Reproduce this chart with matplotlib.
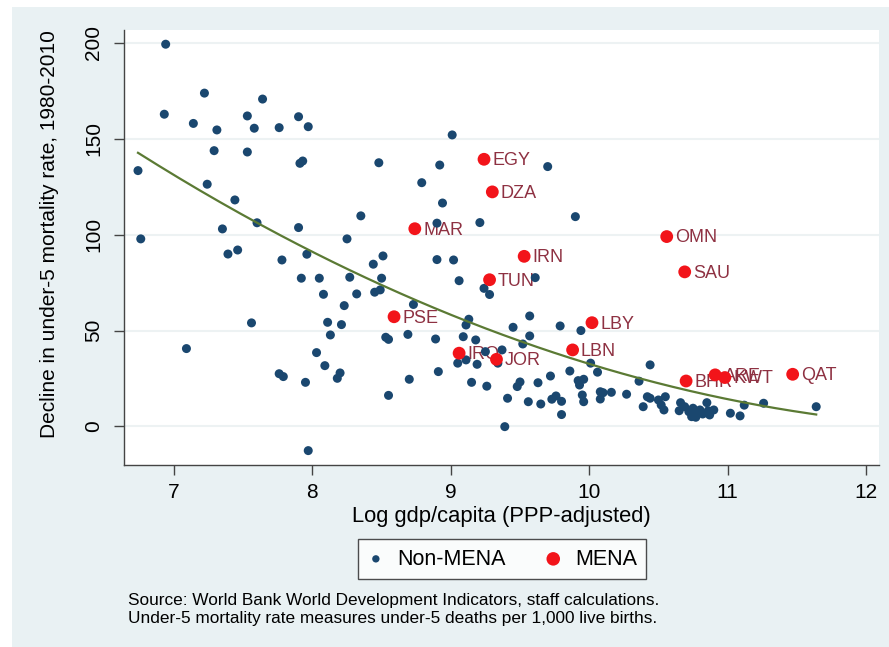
import numpy as np
import matplotlib
matplotlib.use("Agg")
import matplotlib.pyplot as plt
from matplotlib.patches import Rectangle

plt.rcParams['font.family'] = ['Liberation Sans', 'DejaVu Sans']

# non-MENA countries: log gdp/capita, decline in under-5 mortality
nonmena_x = [6.74, 6.76, 6.94, 6.93, 7.09, 7.14, 7.22, 7.24, 7.31, 7.29, 7.53, 7.58, 7.64,
             7.53, 7.76, 7.90, 7.97, 7.91, 7.93, 8.48, 7.44, 8.35, 7.60, 7.35, 7.90, 7.39,
             7.46, 7.78, 7.96, 8.25, 7.92, 8.05, 8.08, 8.27, 8.32, 8.44, 8.51, 8.50, 8.45,
             8.49, 8.23, 8.11, 8.21, 8.13, 7.56, 8.03, 8.09, 7.76, 7.79, 7.95, 8.18, 8.20,
             8.53, 8.55, 8.55, 7.97, 9.01, 8.92, 8.79, 8.94, 9.70, 9.21, 8.90, 9.90, 8.90,
             9.02, 9.06, 9.24, 9.28, 9.61, 8.73, 8.69, 8.89, 8.70, 8.91, 9.13, 9.11, 9.09,
             9.18, 9.11, 9.05, 9.19, 9.25, 9.37, 9.34, 9.15, 9.26, 9.41, 9.39, 9.45, 9.57,
             9.57, 9.52, 9.50, 9.48, 9.63, 9.56, 9.65, 9.72, 9.73, 9.76, 9.80, 9.80, 9.79,
             9.94, 9.86, 9.92, 9.96, 9.93, 9.95, 9.96, 10.01, 10.06, 10.08, 10.10, 10.08,
             10.16, 10.27, 10.36, 10.44, 10.42, 10.44, 10.39, 10.50, 10.52, 10.55, 10.54,
             10.66, 10.65, 10.69, 10.72, 10.75, 10.78, 10.80, 10.74, 10.77, 10.85, 10.86,
             10.90, 10.82, 10.87, 11.02, 11.09, 11.12, 11.26, 11.64]
nonmena_y = [133.4, 97.8, 199.3, 162.8, 40.6, 158.0, 173.8, 126.3, 154.6, 143.8, 161.9, 155.5, 170.7,
             143.1, 155.8, 161.5, 156.3, 137.2, 138.4, 137.5, 118.1, 109.8, 106.2, 103.0, 103.7, 89.9,
             92.0, 86.8, 89.8, 97.8, 77.3, 77.3, 68.9, 77.8, 69.1, 84.6, 88.9, 77.3, 70.0,
             71.2, 63.0, 54.3, 53.1, 47.7, 54.0, 38.5, 31.7, 27.5, 26.0, 23.0, 25.1, 27.9,
             46.5, 45.4, 16.2, -12.6, 152.0, 136.3, 127.1, 116.5, 135.5, 106.3, 106.0, 109.4, 87.0,
             86.8, 76.0, 72.0, 68.8, 77.6, 63.6, 48.0, 45.6, 24.6, 28.6, 55.9, 52.9, 46.8,
             45.1, 34.7, 33.0, 32.4, 39.0, 39.9, 33.0, 23.0, 21.0, 14.7, -0.1, 51.7, 57.6,
             47.2, 43.0, 23.2, 20.8, 22.8, 12.9, 11.7, 26.3, 14.2, 15.9, 13.1, 6.2, 52.4,
             50.0, 28.9, 23.9, 24.6, 21.6, 16.4, 12.9, 33.0, 28.3, 18.1, 17.6, 14.3,
             17.8, 16.8, 23.6, 32.1, 15.5, 14.7, 10.3, 13.8, 11.2, 15.5, 8.6,
             12.4, 8.2, 10.3, 7.7, 9.5, 6.9, 8.6, 5.1, 4.8, 12.4, 8.2,
             8.6, 6.5, 6.0, 6.9, 5.5, 11.1, 12.1, 10.3]

# MENA countries
mena_codes = ['EGY', 'DZA', 'MAR', 'IRN', 'TUN', 'PSE', 'IRQ', 'JOR',
              'LBY', 'LBN', 'OMN', 'SAU', 'BHR', 'ARE', 'KWT', 'QAT']
mena_x = [9.24, 9.30, 8.74, 9.53, 9.28, 8.59, 9.06, 9.33,
          10.02, 9.88, 10.56, 10.69, 10.70, 10.91, 10.98, 11.47]
mena_y = [139.3, 122.3, 103.1, 88.7, 76.5, 57.2, 38.2, 35.0,
          54.1, 39.9, 99.0, 80.6, 23.7, 26.9, 25.5, 27.2]

source_lines = ['Source: World Bank World Development Indicators, staff calculations.',
                'Under-5 mortality rate measures under-5 deaths per 1,000 live births.']

navy = '#1a476f'
red = '#f2141a'
lab_col = '#8e3142'
fit_col = '#5b7a34'

fig = plt.figure(figsize=(8.89, 6.47), dpi=100)
fig.patches.append(Rectangle((12 / 889, 0), 1, 1 - 7 / 647, transform=fig.transFigure,
                             facecolor='#e9f1f3', edgecolor='none', zorder=-10))

ax = fig.add_axes([0.1395, 0.2813, 0.8493, 0.6723])
ax.set_facecolor('white')

# quadratic fit over all countries
all_x = np.array(nonmena_x + mena_x)
all_y = np.array(nonmena_y + mena_y)
coef = np.polyfit(all_x, all_y, 2)
xs = np.linspace(all_x.min(), all_x.max(), 200)
ax.plot(xs, np.polyval(coef, xs), color=fit_col, lw=1.6, zorder=5)

ax.scatter(mena_x, mena_y, s=85, color=red, edgecolors='none', zorder=4, label='MENA')
for code, x, y in zip(mena_codes, mena_x, mena_y):
    ax.annotate(code, (x, y), xytext=(6, -1), textcoords='offset points',
                ha='left', va='center', fontsize=13, color=lab_col, zorder=2)
ax.scatter(nonmena_x, nonmena_y, s=42, color=navy, edgecolors='none', zorder=3, label='Non-MENA')

ax.set_xlim(6.639, 12.094)
ax.set_ylim(-20.1, 206.7)
ax.set_xticks([7, 8, 9, 10, 11, 12])
ax.set_yticks([0, 50, 100, 150, 200])
ax.grid(axis='y', color='#edf2f3', lw=1.5, zorder=0)
ax.set_axisbelow(True)
for s in ['top', 'right']:
    ax.spines[s].set_visible(False)
for s in ['left', 'bottom']:
    ax.spines[s].set_color('#444444')
    ax.spines[s].set_linewidth(1.0)
ax.tick_params(axis='both', length=7, width=1, color='#444444', labelsize=15, pad=6)
ax.tick_params(axis='y', pad=8)
for lab in ax.get_yticklabels():
    lab.set_rotation(90)
    lab.set_va('center')

ax.set_xlabel('Log gdp/capita (PPP-adjusted)', fontsize=15.8)
ax.xaxis.set_label_coords(0.4993, -0.094)
ax.set_ylabel('Decline in under-5 mortality rate, 1980-2010', fontsize=15)
ax.yaxis.set_label_coords(-0.086, 0.531)

handles, labels = ax.get_legend_handles_labels()
leg = fig.legend([handles[1], handles[0]], [labels[1], labels[0]], loc='center',
                 bbox_to_anchor=(0.5647, 0.136), ncol=2, frameon=True, fancybox=False,
                 fontsize=15.5, handlelength=0.8, handletextpad=0.6, columnspacing=1.8,
                 borderpad=0.45, borderaxespad=0)
leg.legend_handles[0].set_sizes([28])
leg.legend_handles[1].set_sizes([95])
leg.get_frame().set_edgecolor('#222222')
leg.get_frame().set_linewidth(1.0)

for i, line in enumerate(source_lines):
    fig.text(128 / 889, 1 - (601 + 18 * i) / 647, line,
             fontsize=12.4, va='center', ha='left')

fig.savefig('out.png', dpi=100)
